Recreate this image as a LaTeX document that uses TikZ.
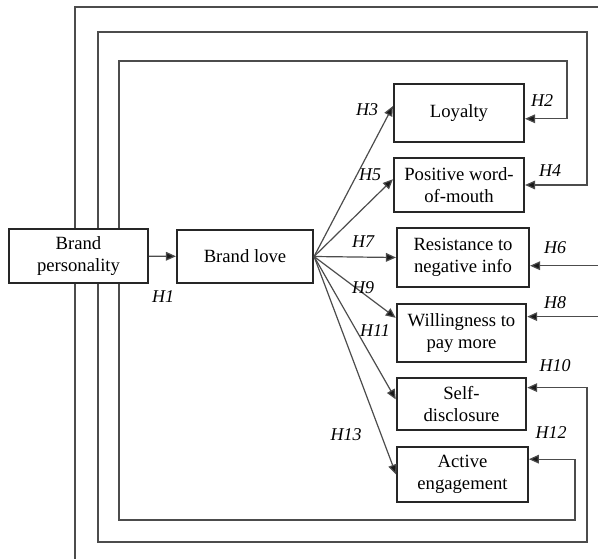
\documentclass[tikz,border=0pt]{standalone}
\usepackage{fontspec}
\setmainfont{Liberation Serif}
\usetikzlibrary{arrows.meta}

\begin{document}
\begin{tikzpicture}[x=0.75pt,y=-0.75pt,
  box/.style={draw=black!85, line width=1.6pt, fill=white, align=center, inner sep=0pt, font=\fontsize{14}{16.5}\selectfont},
  link/.style={draw=black!70, line width=0.9pt},
  arr/.style={link, -{Triangle[length=7.5pt,width=6.5pt,fill=black!90]}},
  hyp/.style={font=\fontsize{13.5}{16}\selectfont\itshape, inner sep=0pt}]
\useasboundingbox (0,0) rectangle (598,559);
% columns and corners of the loops
\coordinate (c1) at (75,7);
\coordinate (c2) at (98,32);
\coordinate (c3) at (119,61);
\coordinate (b2) at (587,542);
\coordinate (b3) at (575,520);
\coordinate (t3) at (567,61);
\coordinate (edge) at (598,559);

\node[box, minimum width=104pt, minimum height=40.5pt] (bp) at (78.5,256) {Brand\\personality};
\node[box, minimum width=102pt, minimum height=40pt] (bl) at (245,256.5) {Brand love};
	\node[box, minimum width=97.5pt, minimum height=43.5pt] (loy) at (459,113) {Loyalty};
	\node[box, minimum width=97.5pt, minimum height=40.5pt] (wom) at (459,185) {Positive word-\\of-mouth};
	\node[box, minimum width=99pt, minimum height=44pt] (res) at (463,257.5) {Resistance to\\negative info};
	\node[box, minimum width=97pt, minimum height=43.5pt] (wil) at (461.5,333) {Willingness to\\pay more};
	\node[box, minimum width=97pt, minimum height=39pt] (self) at (461.5,404) {Self-\\disclosure};
	\node[box, minimum width=98pt, minimum height=41pt] (act) at (462.5,474.5) {Active\\engagement};

\draw[arr] (bp) -- (bl);
\draw[arr] (bl.east) -- (loy.174);
\draw[arr] (bl.east) -- (wom.175);
\draw[arr] (bl.east) -- (res.west);
\draw[arr] (bl.east) -- (wil.167);
\draw[arr] (bl.east) -- (self.176);
\draw[arr] (bl.east) -- (act.west);

% loops from brand personality
\draw[link] (bp.north -| c1) |- (c1 -| edge);
\draw[link] (bp.south -| c1) -- (edge -| c1);
\draw[arr] (bp.north -| c2) |- (c2 -| b2) |- (wom.east);
\draw[arr] (bp.north -| c3) |- (t3) |- (loy.355);
\draw[arr] (bp.south -| c2) |- (b2) |- (self.14);
\draw[arr] (bp.south -| c3) |- (b3) |- (act.13);
\draw[arr] (res.353 -| edge) -- (res.353);
\draw[arr] (wil.14 -| edge) -- (wil.14);

\node[hyp] (h1) at (163,297) {H1};
\node[hyp] (h2) at (542,101) {H2};
\node[hyp] (h3) at (367,110) {H3};
\node[hyp] (h4) at (550,171) {H4};
\node[hyp] (h5) at (370,175) {H5};
\node[hyp] (h6) at (555,248) {H6};
\node[hyp] (h7) at (363,242) {H7};
\node[hyp] (h8) at (555,303) {H8};
\node[hyp] (h9) at (363,288) {H9};
\node[hyp] (h10) at (555,366) {H10};
\node[hyp] (h11) at (375,331) {H11};
\node[hyp] (h12) at (551,433) {H12};
\node[hyp] (h13) at (346,435) {H13};
\end{tikzpicture}
\end{document}
